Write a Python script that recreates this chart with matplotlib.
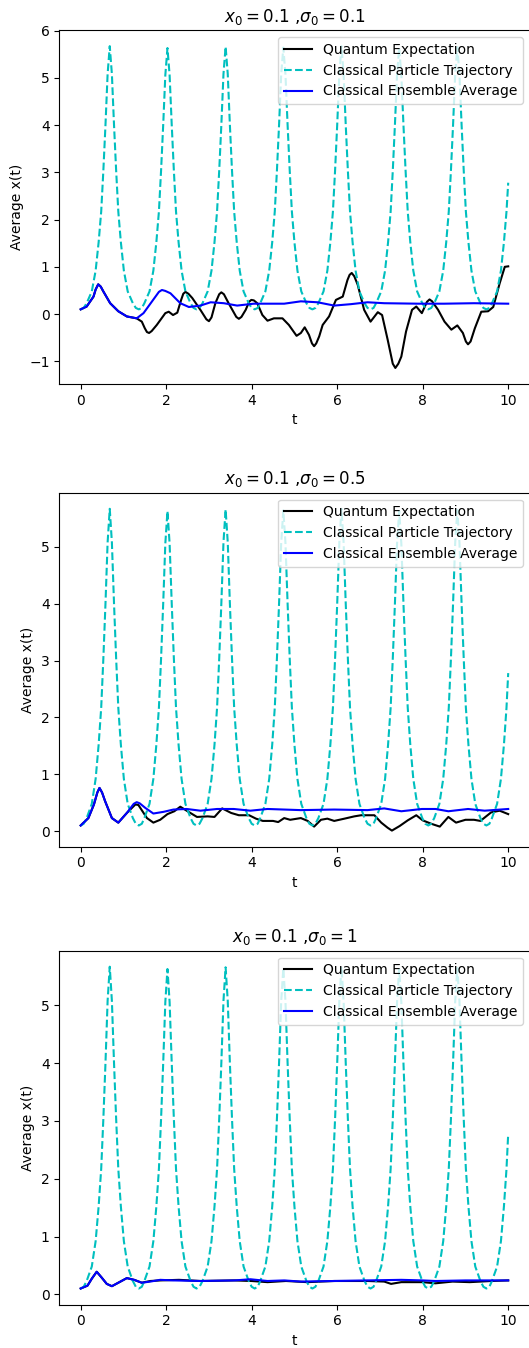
import numpy as np
import matplotlib
matplotlib.use("Agg")
import matplotlib.pyplot as plt

# classical particle started at x0 = 0.1 (same in every panel)
t_particle = [
    0.00, 0.07, 0.14, 0.26, 0.35, 0.42, 0.48, 0.53, 0.58, 0.63, 0.68, 0.73, 0.78, 0.83, 0.88, 0.94, 1.01, 1.10, 1.22, 1.29,
    1.36, 1.43, 1.49, 1.61, 1.70, 1.77, 1.83, 1.88, 1.93, 1.98, 2.03, 2.08, 2.13, 2.18, 2.23, 2.29, 2.36, 2.45, 2.57, 2.64,
    2.71, 2.78, 2.85, 2.97, 3.06, 3.13, 3.19, 3.24, 3.29, 3.34, 3.39, 3.44, 3.49, 3.54, 3.59, 3.65, 3.72, 3.81, 3.93, 4.00,
    4.07, 4.14, 4.20, 4.32, 4.41, 4.48, 4.54, 4.59, 4.64, 4.69, 4.74, 4.79, 4.84, 4.89, 4.94, 5.00, 5.07, 5.16, 5.28, 5.35,
    5.42, 5.49, 5.56, 5.68, 5.77, 5.84, 5.90, 5.95, 6.00, 6.05, 6.10, 6.15, 6.20, 6.25, 6.30, 6.36, 6.43, 6.52, 6.64, 6.71,
    6.78, 6.85, 6.91, 7.03, 7.12, 7.19, 7.25, 7.30, 7.35, 7.40, 7.45, 7.50, 7.55, 7.60, 7.65, 7.71, 7.78, 7.87, 7.99, 8.06,
    8.13, 8.20, 8.27, 8.39, 8.48, 8.55, 8.61, 8.66, 8.71, 8.76, 8.81, 8.86, 8.91, 8.96, 9.01, 9.07, 9.14, 9.23, 9.35, 9.42,
    9.49, 9.56, 9.62, 9.74, 9.83, 9.90, 9.96, 10.00,
]
x_particle = [
    0.10, 0.13, 0.23, 0.48, 0.92, 1.52, 2.17, 3.03, 4.00, 5.08, 5.67, 5.08, 4.00, 3.03, 2.17, 1.52, 0.92, 0.48, 0.23, 0.13,
    0.10, 0.13, 0.23, 0.48, 0.92, 1.52, 2.17, 3.03, 4.00, 5.06, 5.63, 5.06, 4.00, 3.03, 2.17, 1.52, 0.92, 0.48, 0.23, 0.13,
    0.10, 0.13, 0.23, 0.48, 0.92, 1.52, 2.17, 3.03, 4.00, 5.08, 5.66, 5.08, 4.00, 3.03, 2.17, 1.52, 0.92, 0.48, 0.23, 0.13,
    0.10, 0.13, 0.23, 0.48, 0.92, 1.52, 2.17, 3.03, 4.00, 5.07, 5.64, 5.07, 4.00, 3.03, 2.17, 1.52, 0.92, 0.48, 0.23, 0.13,
    0.10, 0.13, 0.23, 0.48, 0.92, 1.52, 2.17, 3.03, 4.00, 5.08, 5.67, 5.08, 4.00, 3.03, 2.17, 1.52, 0.92, 0.48, 0.23, 0.13,
    0.10, 0.13, 0.23, 0.48, 0.92, 1.52, 2.17, 3.03, 4.00, 5.06, 5.63, 5.06, 4.00, 3.03, 2.17, 1.52, 0.92, 0.48, 0.23, 0.13,
    0.10, 0.13, 0.23, 0.48, 0.92, 1.52, 2.17, 3.03, 4.00, 5.07, 5.65, 5.07, 4.00, 3.03, 2.17, 1.52, 0.92, 0.48, 0.23, 0.13,
    0.10, 0.13, 0.23, 0.48, 0.92, 1.52, 2.17, 2.78,
]

# sigma0 = 0.1
t_quantum_1 = [
    0.00, 0.14, 0.30, 0.35, 0.41, 0.47, 0.53, 0.69, 0.88, 1.08, 1.31, 1.43, 1.50, 1.55, 1.60, 1.66, 1.78, 1.98, 2.06,
    2.16, 2.26, 2.35, 2.40, 2.45, 2.52, 2.61, 2.80, 2.94, 3.00, 3.06, 3.15, 3.24, 3.29, 3.35, 3.46, 3.64, 3.70, 3.76,
    3.86, 3.94, 3.99, 4.05, 4.13, 4.25, 4.37, 4.52, 4.72, 4.87, 5.05, 5.15, 5.24, 5.34, 5.41, 5.46, 5.51, 5.58, 5.66,
    5.81, 5.97, 6.13, 6.24, 6.29, 6.34, 6.40, 6.48, 6.63, 6.78, 6.95, 7.05, 7.18, 7.30, 7.36, 7.43, 7.50, 7.61, 7.75,
    7.85, 7.98, 8.10, 8.16, 8.22, 8.36, 8.51, 8.67, 8.81, 8.94, 9.01, 9.06, 9.12, 9.22, 9.37, 9.53, 9.65, 9.80, 9.92,
    10.00,
]
x_quantum_1 = [
    0.10, 0.16, 0.37, 0.52, 0.63, 0.58, 0.48, 0.23, 0.06, -0.05, -0.09, -0.16, -0.30, -0.38, -0.40, -0.36, -0.23, 0.02, 0.05,
    -0.02, 0.03, 0.30, 0.43, 0.47, 0.43, 0.34, 0.09, -0.11, -0.15, -0.07, 0.23, 0.42, 0.46, 0.42, 0.23, -0.06, -0.10, -0.06,
    0.09, 0.26, 0.30, 0.29, 0.23, -0.02, -0.14, -0.09, -0.09, -0.23, -0.46, -0.40, -0.28, -0.44, -0.62, -0.68, -0.62, -0.47, -0.23,
    -0.05, 0.30, 0.37, 0.72, 0.83, 0.87, 0.80, 0.62, 0.09, -0.16, 0.04, -0.02, -0.54, -1.05, -1.14, -1.05, -0.90, -0.37, 0.09,
    0.16, 0.02, 0.26, 0.31, 0.27, 0.09, -0.16, -0.33, -0.24, -0.40, -0.58, -0.64, -0.58, -0.30, 0.05, 0.06, 0.15, 0.65, 1.00,
    1.01,
]
t_ensemble_1 = [
    0.00, 0.14, 0.30, 0.35, 0.41, 0.47, 0.53, 0.69, 0.88, 1.08, 1.31, 1.47, 1.67, 1.83, 1.90, 1.98, 2.10, 2.33, 2.53,
    2.80, 3.04, 3.35, 3.66, 4.05, 4.76, 5.15, 5.54, 5.93, 6.32, 6.71, 7.10, 7.90, 8.50, 9.20, 10.00,
]
x_ensemble_1 = [
    0.10, 0.16, 0.37, 0.52, 0.63, 0.58, 0.48, 0.23, 0.06, -0.05, -0.09, 0.02, 0.27, 0.47, 0.51, 0.49, 0.44, 0.23, 0.15,
    0.18, 0.25, 0.23, 0.18, 0.22, 0.22, 0.27, 0.25, 0.18, 0.21, 0.25, 0.23, 0.22, 0.22, 0.23, 0.22,
]

# sigma0 = 0.5
t_quantum_2 = [
    0.00, 0.18, 0.31, 0.39, 0.44, 0.50, 0.57, 0.73, 0.88, 1.08, 1.28, 1.35, 1.55, 1.70, 1.86, 2.03, 2.19, 2.33, 2.50,
    2.72, 2.97, 3.13, 3.31, 3.52, 3.70, 3.94, 4.10, 4.26, 4.50, 4.62, 4.76, 4.90, 5.15, 5.31, 5.46, 5.62, 5.77, 5.93,
    6.17, 6.40, 6.56, 6.87, 7.03, 7.18, 7.28, 7.46, 7.65, 7.85, 8.00, 8.20, 8.40, 8.60, 8.78, 9.00, 9.20, 9.35, 9.60,
    9.80, 10.00,
]
x_quantum_2 = [
    0.10, 0.23, 0.47, 0.68, 0.76, 0.68, 0.53, 0.23, 0.15, 0.32, 0.47, 0.46, 0.23, 0.15, 0.20, 0.30, 0.35, 0.43, 0.35,
    0.25, 0.26, 0.25, 0.40, 0.32, 0.28, 0.28, 0.22, 0.18, 0.18, 0.16, 0.23, 0.20, 0.23, 0.18, 0.08, 0.20, 0.22, 0.18,
    0.22, 0.26, 0.28, 0.28, 0.15, 0.06, 0.01, 0.09, 0.19, 0.28, 0.19, 0.13, 0.08, 0.25, 0.15, 0.20, 0.20, 0.18, 0.33,
    0.36, 0.30,
]
t_ensemble_2 = [
    0.00, 0.18, 0.31, 0.39, 0.44, 0.50, 0.57, 0.73, 0.88, 1.08, 1.24, 1.31, 1.38, 1.51, 1.70, 1.94, 2.17, 2.48, 2.80,
    3.19, 3.58, 3.97, 4.37, 5.15, 5.93, 6.71, 7.10, 7.50, 7.98, 8.30, 8.60, 9.06, 9.45, 10.00,
]
x_ensemble_2 = [
    0.10, 0.23, 0.47, 0.68, 0.76, 0.68, 0.53, 0.23, 0.15, 0.32, 0.48, 0.51, 0.49, 0.41, 0.31, 0.34, 0.38, 0.39, 0.36,
    0.39, 0.39, 0.36, 0.39, 0.37, 0.38, 0.37, 0.40, 0.35, 0.39, 0.39, 0.35, 0.39, 0.36, 0.39,
]

# sigma0 = 1
t_quantum_3 = [
    0.00, 0.16, 0.26, 0.375, 0.49, 0.61, 0.73, 0.88, 1.08, 1.25, 1.43, 1.63, 1.86, 2.30, 2.80, 3.60, 4.00, 4.37,
    4.80, 5.30, 5.93, 6.71, 7.10, 7.26, 7.50, 8.00, 8.30, 8.70, 9.10, 9.60, 10.00,
]
x_quantum_3 = [
    0.10, 0.15, 0.27, 0.39, 0.29, 0.18, 0.14, 0.20, 0.28, 0.25, 0.20, 0.23, 0.24, 0.25, 0.23, 0.24, 0.23, 0.21,
    0.23, 0.21, 0.23, 0.23, 0.22, 0.18, 0.21, 0.21, 0.19, 0.22, 0.21, 0.23, 0.24,
]
t_ensemble_3 = [
    0.00, 0.16, 0.26, 0.375, 0.49, 0.61, 0.73, 0.88, 1.08, 1.25, 1.43, 1.63, 1.86, 2.17, 2.80, 3.60, 3.97, 4.37,
    4.76, 5.15, 5.93, 6.71, 7.50, 8.00, 8.30, 9.00, 10.00,
]
x_ensemble_3 = [
    0.10, 0.15, 0.27, 0.39, 0.29, 0.18, 0.14, 0.20, 0.28, 0.25, 0.20, 0.22, 0.25, 0.24, 0.23, 0.24, 0.26, 0.23,
    0.24, 0.22, 0.23, 0.24, 0.25, 0.24, 0.23, 0.24, 0.24,
]

sigmas = ["0.1", "0.5", "1"]

quantum = [
    (t_quantum_1, x_quantum_1),
    (t_quantum_2, x_quantum_2),
    (t_quantum_3, x_quantum_3),
]

ensemble = [
    (t_ensemble_1, x_ensemble_1),
    (t_ensemble_2, x_ensemble_2),
    (t_ensemble_3, x_ensemble_3),
]

fig = plt.figure(figsize=(5.29, 13.48), dpi=100)

# panel bottoms in figure fraction, all panels same size
bottoms = [0.7151, 0.3719, 0.0322]

for i in range(3):

    ax = fig.add_axes([0.1121, bottoms[i], 0.889, 0.2626])

    ax.plot(quantum[i][0], quantum[i][1], 'k', label='Quantum Expectation')

    ax.plot(t_particle, x_particle, 'c--', label='Classical Particle Trajectory')

    ax.plot(ensemble[i][0], ensemble[i][1], 'b', label='Classical Ensemble Average')

    ax.set_title(r'$x_0 = 0.1$ ,$\sigma_0 = ' + sigmas[i] + '$')

    ax.set_xlabel('t')

    ax.set_ylabel('Average x(t)')

    ax.legend(loc='upper right')

fig.savefig('out.png', dpi=100)
